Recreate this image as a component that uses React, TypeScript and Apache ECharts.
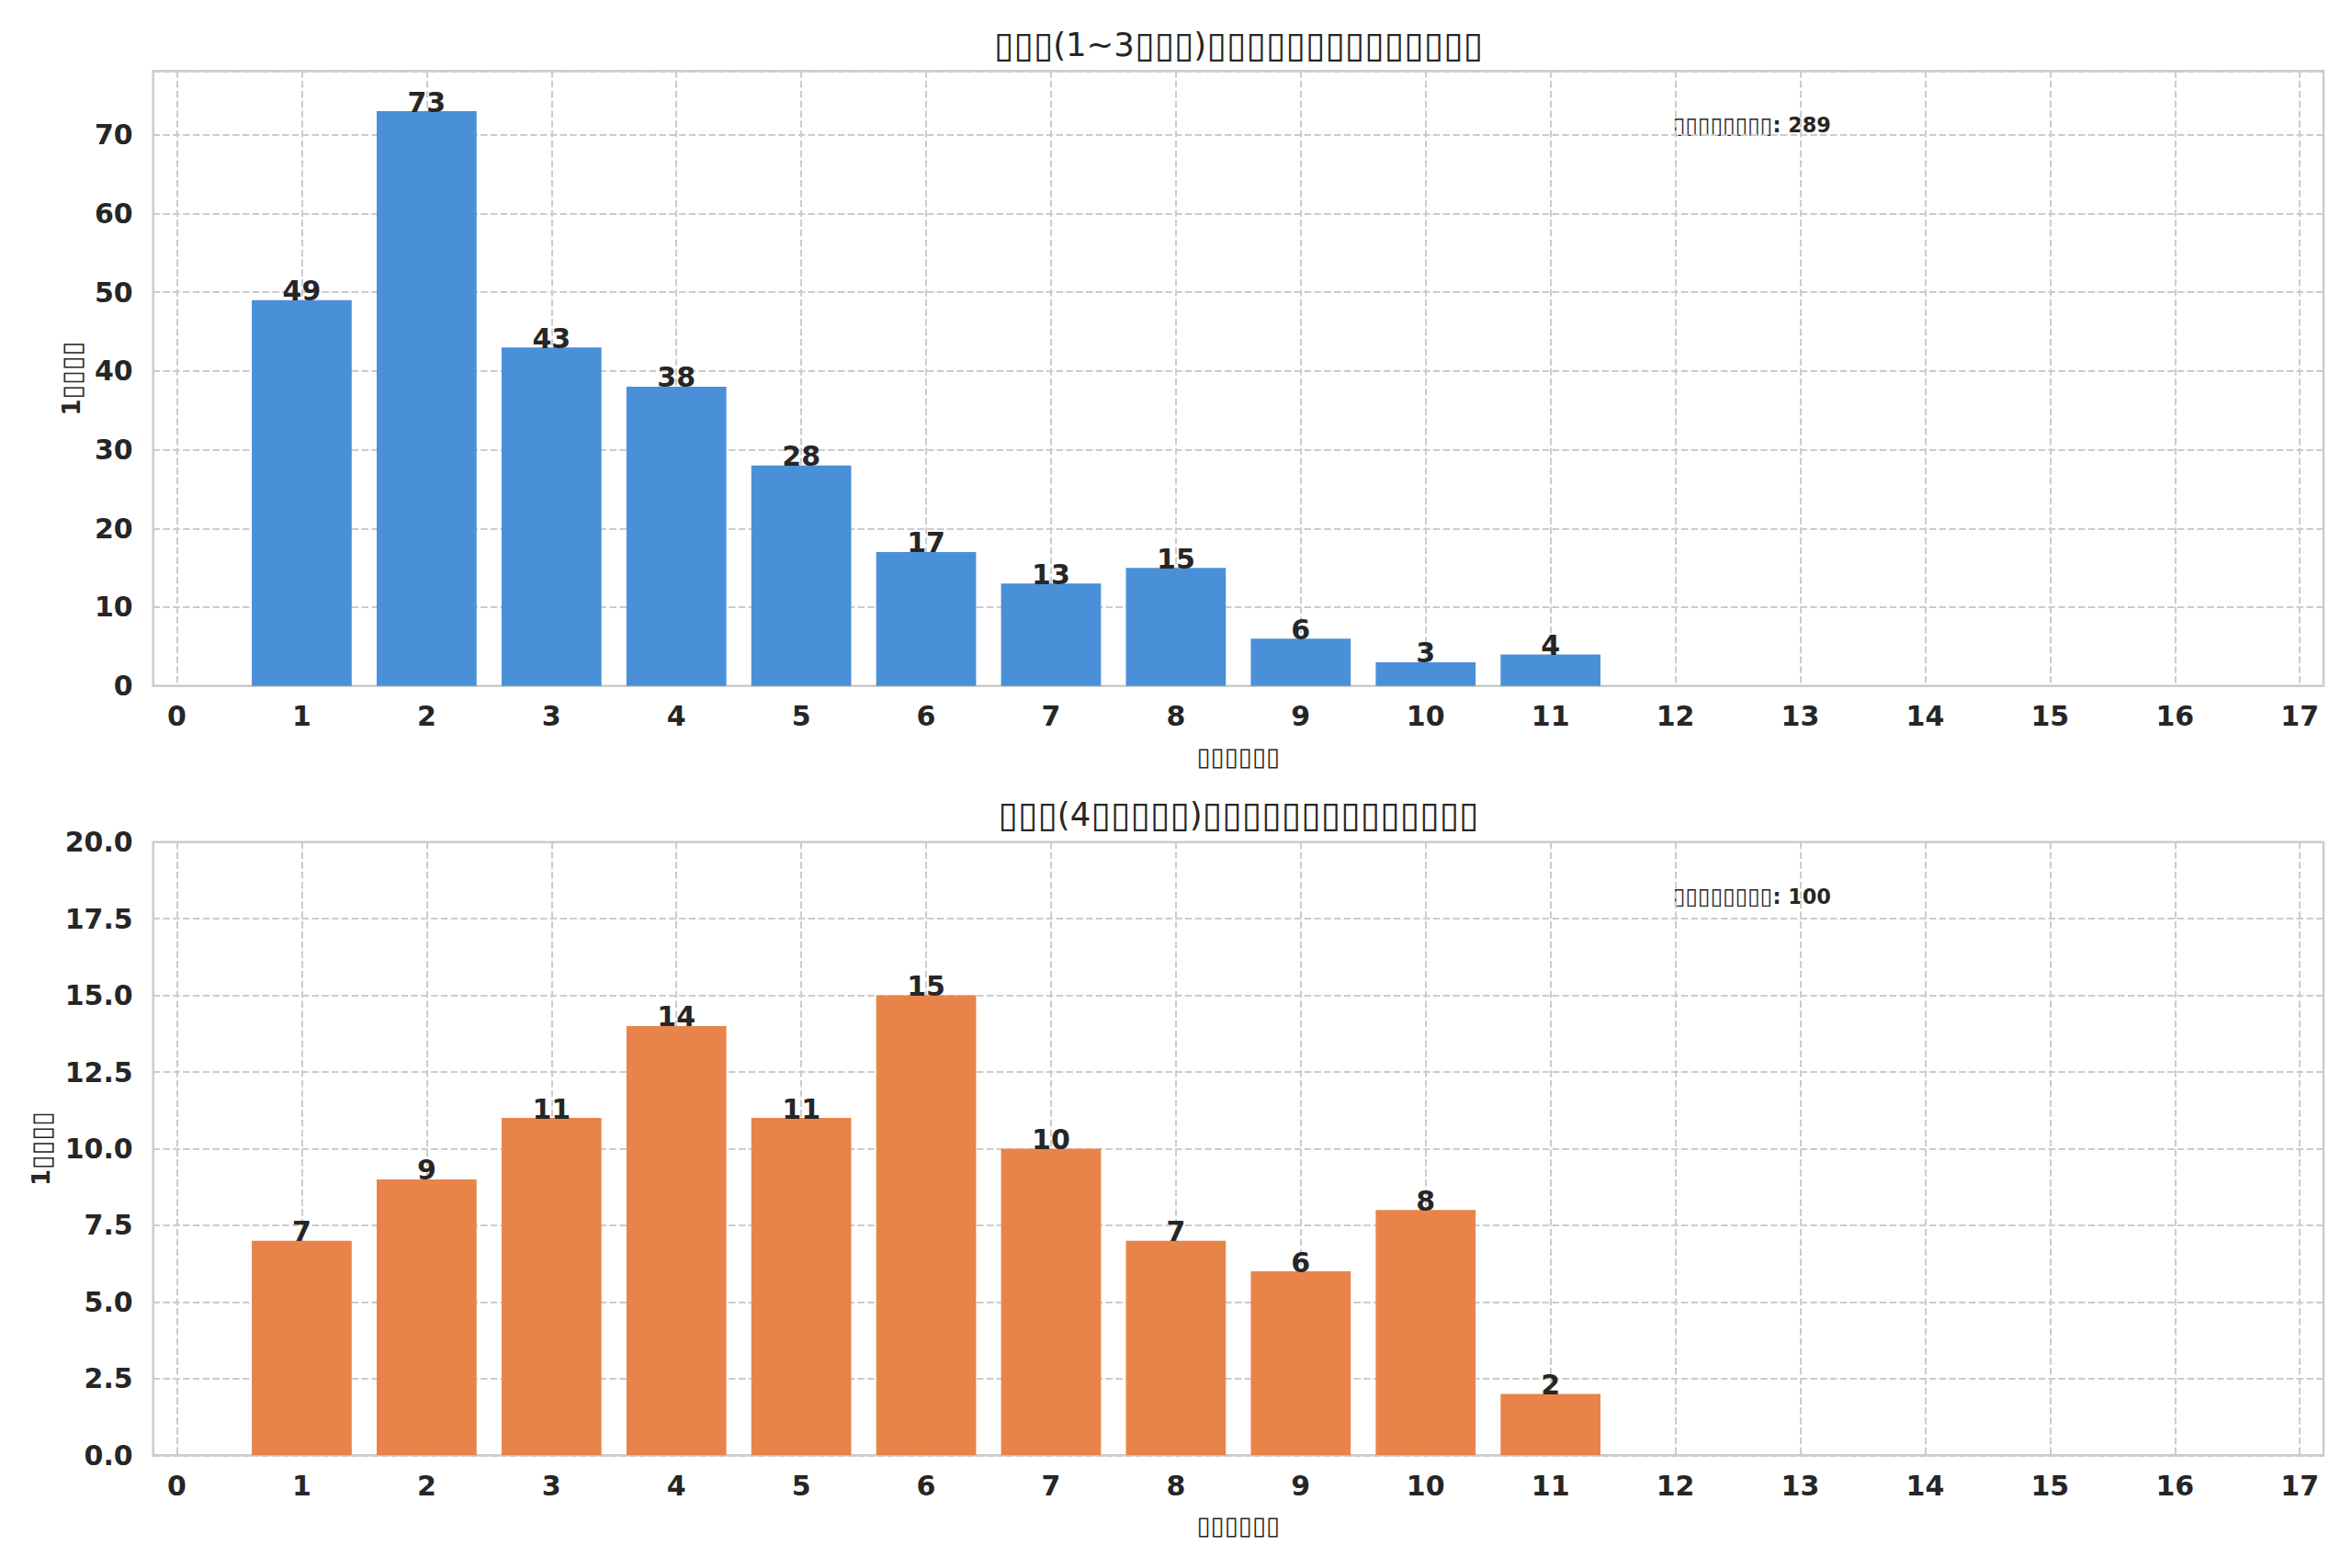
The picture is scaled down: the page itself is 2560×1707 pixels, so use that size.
import React, { useEffect, useRef } from 'react';
import * as echarts from 'echarts';

// chart data
const positions = [1, 2, 3, 4, 5, 6, 7, 8, 9, 10, 11];
const shortCounts = [49, 73, 43, 38, 28, 17, 13, 15, 6, 3, 4];
const longCounts = [7, 9, 11, 14, 11, 15, 10, 7, 6, 8, 2];

// the source texts were drawn as missing-glyph boxes, kept here as ▯
const titleTop = '▯▯▯(1~3▯▯▯)▯▯▯▯▯▯▯▯▯▯▯▯▯▯';
const titleBottom = '▯▯▯(4▯▯▯▯▯)▯▯▯▯▯▯▯▯▯▯▯▯▯▯';
const xName = '▯▯▯▯▯▯';
const yName = '1▯▯▯▯';
const totalLabel = '▯▯▯▯▯▯▯▯';

const FONT = '"DejaVu Sans", sans-serif';
const TEXT = '#262626';
const GRID_LINE = '#cccccc';
const BOX_SCALE = 1.1;

const FRAME_L = 166.7;
const FRAME_W = 2362.3;
const X_MIN = -0.19;
const X_MAX = 17.19;
const UNIT = FRAME_W / (X_MAX - X_MIN);
const DATA_L = FRAME_L - X_MIN * UNIT;
const DATA_W = 17 * UNIT;

const panels = [
    { top: 77.3, height: 669.4, yMax: 78.1, interval: 10, counts: shortCounts, color: '#4A90D9', title: titleTop, titleY: 48, nameGap: 72, decimals: 0 },
    { top: 916.7, height: 667.6, yMax: 20, interval: 2.5, counts: longCounts, color: '#E8844A', title: titleBottom, titleY: 886, nameGap: 104, decimals: 1 },
];

// wrap runs of boxes in a rich token so their width can be tuned
const boxify = (s: string) => s.replace(/▯+/g, m => `{b|${m}}`);
const boxRich = (size: number, weight: string) => ({
    b: { fontSize: size * BOX_SCALE, fontWeight: weight, fontFamily: FONT, color: TEXT },
});

export default function App() {
    const chartRef = useRef<HTMLDivElement | null>(null);

    useEffect(() => {
        document.body.style.margin = '0';
        if (!chartRef.current) return;
        const chart = echarts.init(chartRef.current, undefined, { renderer: 'svg' });

        const grid: any[] = [];
        const xAxis: any[] = [];
        const yAxis: any[] = [];
        const series: any[] = [];
        const graphic: any[] = [];

        panels.forEach((p, i) => {
            // frame grid carries the border and horizontal grid lines
            grid.push({ left: FRAME_L, top: p.top, width: FRAME_W, height: p.height, show: true, borderColor: GRID_LINE, borderWidth: 2.5, backgroundColor: 'transparent' });
            // data grid carries the 0..17 x axis and the bars
            grid.push({ left: DATA_L, top: p.top, width: DATA_W, height: p.height });

            xAxis.push({ gridIndex: i * 2, type: 'value', min: 0, max: 1, show: false });
            xAxis.push({
                gridIndex: i * 2 + 1,
                type: 'value',
                min: 0,
                max: 17,
                interval: 1,
                axisLine: { show: false },
                axisTick: { show: false },
                axisLabel: { color: TEXT, fontSize: 30, fontWeight: 'bold', fontFamily: FONT, margin: 18 },
                splitLine: { show: true, lineStyle: { color: GRID_LINE, width: 2, type: [7.5, 3.3] } },
                name: boxify(xName),
                nameLocation: 'middle',
                nameGap: 62,
                nameTextStyle: { color: TEXT, fontSize: 25, fontWeight: 'bold', fontFamily: FONT, rich: boxRich(25, 'bold') },
            });

            yAxis.push({
                gridIndex: i * 2,
                type: 'value',
                min: 0,
                max: p.yMax,
                interval: p.interval,
                axisLine: { show: false },
                axisTick: { show: false },
                axisLabel: {
                    color: TEXT, fontSize: 30, fontWeight: 'bold', fontFamily: FONT, margin: 22,
                    showMaxLabel: p.yMax % p.interval === 0,
                    formatter: (v: number) => v.toFixed(p.decimals),
                },
                splitLine: { show: true, lineStyle: { color: GRID_LINE, width: 2, type: [7.5, 3.3] } },
                name: boxify(yName),
                nameLocation: 'middle',
                nameGap: p.nameGap,
                nameTextStyle: { color: TEXT, fontSize: 26, fontWeight: 'bold', fontFamily: FONT, rich: boxRich(26, 'bold') },
            });
            yAxis.push({ gridIndex: i * 2 + 1, type: 'value', min: 0, max: p.yMax, show: false });

            series.push({
                type: 'custom',
                xAxisIndex: i * 2 + 1,
                yAxisIndex: i * 2 + 1,
                data: positions.map((x, k) => [x, p.counts[k]]),
                encode: { x: 0, y: 1 },
                renderItem: (params: any, api: any) => {
                    const x = api.value(0);
                    const v = api.value(1);
                    const top = api.coord([x, v]);
                    const base = api.coord([x, 0]);
                    const w = api.size([0.8, 0])[0];
                    return {
                        type: 'group',
                        children: [
                            { type: 'rect', shape: { x: top[0] - w / 2, y: top[1], width: w, height: base[1] - top[1] }, style: { fill: p.color } },
                            {
                                type: 'text', x: top[0], y: top[1] + 5,
                                style: { text: String(v), fill: TEXT, fontSize: 30, fontWeight: 'bold', fontFamily: FONT, align: 'center', verticalAlign: 'bottom' },
                            },
                        ],
                    };
                },
            });

            const total = p.counts.reduce((a, b) => a + b, 0);
            graphic.push({
                type: 'text', x: FRAME_L + FRAME_W / 2, y: p.titleY,
                style: { text: boxify(p.title), fill: TEXT, fontSize: 35.5, fontFamily: FONT, align: 'center', verticalAlign: 'middle', rich: boxRich(35.5, 'normal') },
            });
            graphic.push({
                type: 'text', x: 1821, y: p.top + 59,
                style: { text: `${boxify(totalLabel)}: ${total}`, fill: TEXT, fontSize: 22.4, fontWeight: 'bold', fontFamily: FONT, align: 'left', verticalAlign: 'middle', rich: boxRich(22.4, 'bold') },
            });
        });

        chart.setOption({
            animation: false,
            backgroundColor: '#ffffff',
            textStyle: { fontFamily: FONT },
            grid,
            xAxis,
            yAxis,
            series,
            graphic,
        });

        return () => {
            chart.dispose();
        };
    }, []);

    return <div ref={chartRef} style={{ width: '2560px', height: '1707px' }} />;
}
